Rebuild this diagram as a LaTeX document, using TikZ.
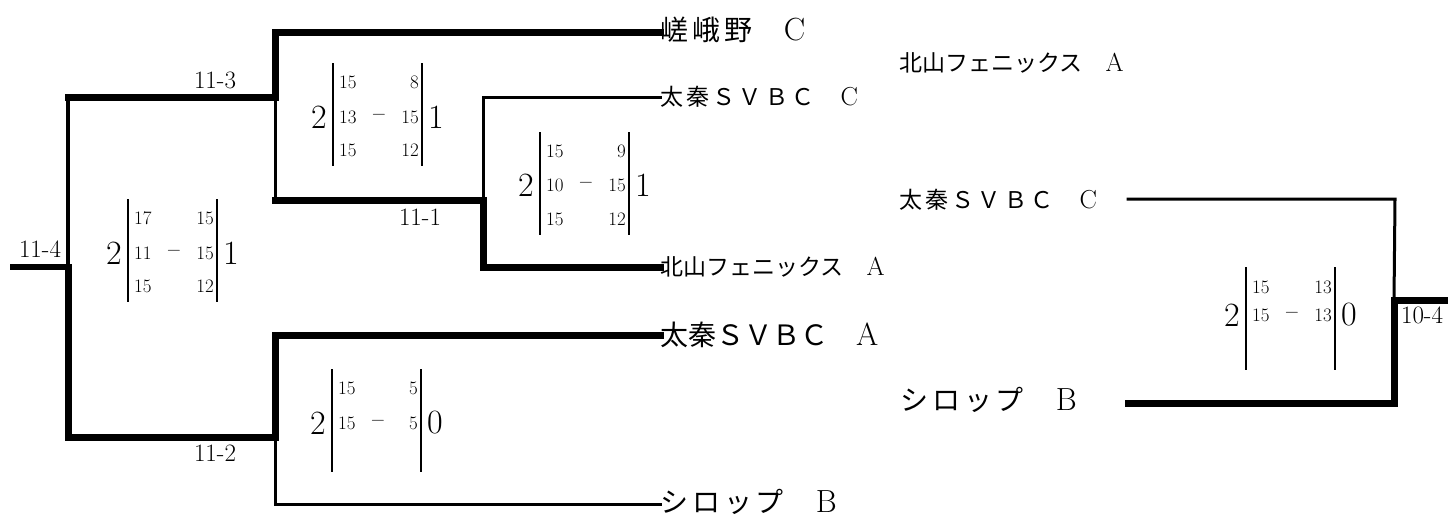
\documentclass[tikz,border=0pt]{standalone}
\usepackage{fontspec}
\newfontfamily\jpfont{Noto Sans CJK JP}
\newfontfamily\jpwide[LetterSpace=14]{Noto Sans CJK JP}
\newcommand\BigL[1]{{\fontsize{32}{34}\selectfont #1}}
\newcommand\SmL[1]{{\fontsize{26}{28}\selectfont #1}}
\tikzset{
  heavy/.style={line width=7pt, line cap=rect, line join=miter},
  medium/.style={line width=4.5pt, line cap=rect},
  light/.style={line width=3pt, line cap=rect, line join=miter},
  bar/.style={line width=2.6pt},
  bigscore/.style={inner sep=0pt, font=\fontsize{34}{36}\selectfont},
  smallscore/.style={inner sep=0pt, font=\fontsize{19}{22}\selectfont},
  roundlabel/.style={inner sep=0pt, font=\fontsize{25}{27}\selectfont},
  teambig/.style={inner sep=0pt, anchor=west, font=\fontsize{28}{30}\selectfont},
  teamsmall/.style={inner sep=0pt, anchor=west, font=\fontsize{23}{25}\selectfont},
}
\newcommand\ScoreBox[6]{% name, L, T, mid y, left, right
  \draw[bar] (#2,#3) coordinate (#1-lt) -- (#2,#3+103) coordinate (#1-lb);
  \draw[bar] (#2+89,#3) coordinate (#1-rt) -- (#2+89,#3+103) coordinate (#1-rb);
  \node[bigscore] (#1-l) at (#2-14,#4) {#5};
  \node[bigscore] (#1-r) at (#2+103,#4) {#6};
}
\newcommand\ScoreRow[5]{% name, L, y, a, b
  \node[smallscore, anchor=west] (#1a) at (#2+6,#3) {#4};
  \node[smallscore, anchor=east] (#1b) at (#2+86,#3) {#5};
}
\newcommand\ScoreMinus[3]{% name, L, y
  \node[smallscore] (#1) at (#2+46,#3) {−};
}
\begin{document}
\begin{tikzpicture}[x=1pt, y=-1pt]
\useasboundingbox (0,0) rectangle (1448,517);

% team names, left bracket
\node[teambig]   (tSaga)  at (660,30)  {{\jpwide 嵯峨野　}\BigL{C}};
\node[teamsmall] (tUzuC)  at (660,97)  {{\jpwide 太秦ＳＶＢＣ　}\SmL{C}};
\node[teamsmall] (tKitaA) at (660,267) {{\jpfont 北山フェニックス　}\SmL{A}};
\node[teambig]   (tUzuA)  at (660,335) {{\jpfont 太秦ＳＶＢＣ　}\BigL{A}};
\node[teambig]   (tSiroB) at (660,502) {{\jpwide シロップ　}\BigL{B}};

% team names, right
\node[teamsmall] (rKitaA) at (899,63)  {{\jpfont 北山フェニックス　}\SmL{A}};
\node[teamsmall] (rUzuC)  at (899,200) {{\jpwide 太秦ＳＶＢＣ　}\SmL{C}};
\node[teambig]   (rSiroB) at (900,400) {{\jpwide シロップ　}\BigL{B}};

% bracket coordinates
\coordinate (r0) at (10,267);
\coordinate (r1) at (68,267);
\coordinate (u1) at (68,97);
\coordinate (u2) at (275,97);
\coordinate (u3) at (275,32);
\coordinate (m1) at (275,200);
\coordinate (m2) at (483,200);
\coordinate (m3) at (483,97);
\coordinate (m4) at (483,267);
\coordinate (d1) at (68,437);
\coordinate (d2) at (275,437);
\coordinate (d3) at (275,335);
\coordinate (d4) at (275,504);

\coordinate (q1) at (1128,199);
\coordinate (q2) at (1395,199);
\coordinate (q3) at (1394,300);
\coordinate (q4) at (1448,300);
\coordinate (q5) at (1128,403);
\coordinate (q6) at (1394,403);

% light lines
\draw[light] (u2) -- (m1);
\draw[light] (m2) -- (m3) -- (m3 -| tUzuC.west);
\draw[light] (d2) -- (d4) -- (d4 -| tSiroB.west);
\draw[light] (q1) -- (q2) -- (q3);
\draw[medium] (u1) -- (r1);

% heavy lines
\draw[line width=6pt] (r0) -- (r1);
\draw[heavy] (r1) -- (d1) -- (d2) -- (d3) -- (tUzuA.west);
\draw[heavy] (u1) -- (u2) -- (u3) -- (u3 -| tSaga.west);
\draw[heavy] (m1) -- (m2) -- (m4) -- (tKitaA.west);
\draw[heavy] (q5) -- (q6) -- (q3) -- (q4);

% round labels
\node[roundlabel] (l114) at (40,249)   {11-4};
\node[roundlabel] (l113) at (215,80)   {11-3};
\node[roundlabel] (l111) at (420,217)  {11-1};
\node[roundlabel] (l112) at (215,453)  {11-2};
\node[roundlabel] (l104) at (1422,315) {10-4};

% score blocks
\ScoreBox{s1}{128}{199}{253}{2}{1}
\ScoreRow{s1r1}{128}{218}{17}{15}
\ScoreRow{s1r2}{128}{253}{11}{15}
\ScoreMinus{s1m}{128}{253}
\ScoreRow{s1r3}{128}{286}{15}{12}

\ScoreBox{s2}{333}{63}{117}{2}{1}
\ScoreRow{s2r1}{333}{82}{15}{8}
\ScoreRow{s2r2}{333}{117}{13}{15}
\ScoreMinus{s2m}{333}{117}
\ScoreRow{s2r3}{333}{150}{15}{12}

\ScoreBox{s3}{540}{132}{185}{2}{1}
\ScoreRow{s3r1}{540}{151}{15}{9}
\ScoreRow{s3r2}{540}{185}{10}{15}
\ScoreMinus{s3m}{540}{185}
\ScoreRow{s3r3}{540}{219}{15}{12}

\ScoreBox{s4}{332}{369}{423}{2}{0}
\ScoreRow{s4r1}{332}{388}{15}{5}
\ScoreRow{s4r2}{332}{423}{15}{5}
\ScoreMinus{s4m}{332}{423}

\ScoreBox{s5}{1246}{267}{315}{2}{0}
\ScoreRow{s5r1}{1246}{287}{15}{13}
\ScoreRow{s5r2}{1246}{315}{15}{13}
\ScoreMinus{s5m}{1246}{315}
\end{tikzpicture}
\end{document}
